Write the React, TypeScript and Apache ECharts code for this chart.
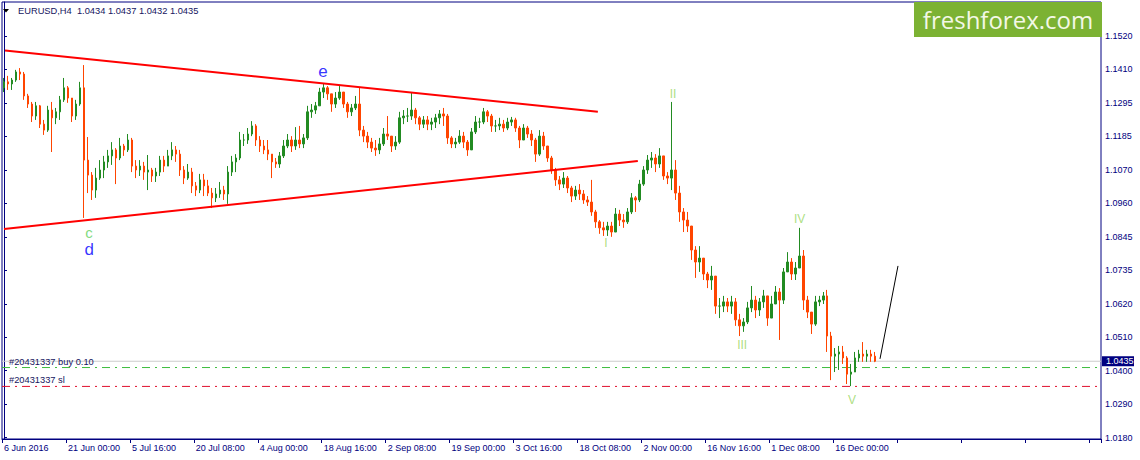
import React, { useEffect, useRef } from "react";
import * as echarts from "echarts";

// ---- data (EURUSD H4, each candle here spans 4 H4 bars) ----
const firstOpen = 1.1347;
const highs = [
  1.1380,1.1387,1.1380,1.1407,1.1413,1.1400,1.1327,1.1300,1.1300,1.1290,
  1.1240,1.1287,1.1300,1.1280,1.1320,1.1380,1.1353,1.1313,1.1307,1.1367,
  1.1423,1.1183,1.1066,1.1080,1.1106,1.1120,1.1140,1.1166,1.1146,1.1180,
  1.1160,1.1193,1.1180,1.1106,1.1106,1.1100,1.1123,1.1080,1.1080,1.1120,
  1.1120,1.1140,1.1166,1.1153,1.1140,1.1086,1.1093,1.1080,1.1033,1.1060,
  1.1060,1.1040,1.1013,1.1013,1.1033,1.1020,1.1086,1.1120,1.1126,1.1200,
  1.1193,1.1213,1.1236,1.1226,1.1186,1.1173,1.1173,1.1126,1.1113,1.1133,
  1.1173,1.1193,1.1186,1.1216,1.1220,1.1193,1.1287,1.1293,1.1300,1.1347,
  1.1363,1.1353,1.1327,1.1333,1.1353,1.1327,1.1300,1.1293,1.1320,1.1347,
  1.1220,1.1200,1.1180,1.1173,1.1180,1.1213,1.1253,1.1186,1.1186,1.1267,
  1.1273,1.1280,1.1330,1.1280,1.1253,1.1253,1.1253,1.1247,1.1260,1.1273,
  1.1280,1.1260,1.1186,1.1180,1.1206,1.1200,1.1173,1.1213,1.1253,1.1247,
  1.1280,1.1273,1.1260,1.1240,1.1247,1.1240,1.1247,1.1250,1.1247,1.1220,
  1.1226,1.1220,1.1206,1.1180,1.1206,1.1200,1.1153,1.1120,1.1080,1.1053,
  1.1066,1.1053,1.1020,1.1020,1.1026,1.1006,1.0986,1.1040,1.0940,1.0906,
  1.0900,1.0900,1.0900,1.0946,1.0940,1.0926,1.0946,1.0996,1.0986,1.1040,
  1.1086,1.1123,1.1133,1.1126,1.1146,1.1120,1.1066,1.1300,1.1106,1.1020,
  1.0946,1.0933,1.0886,1.0819,1.0819,1.0779,1.0733,1.0753,1.0719,1.0646,
  1.0653,1.0646,1.0653,1.0646,1.0593,1.0579,1.0633,1.0686,1.0653,1.0646,
  1.0673,1.0646,1.0653,1.0686,1.0679,1.0746,1.0799,1.0779,1.0766,1.0880,
  1.0806,1.0653,1.0599,1.0653,1.0653,1.0666,1.0673,1.0533,1.0479,1.0486,
  1.0486,1.0452,1.0426,1.0466,1.0473,1.0499,1.0473,1.0473,1.0466,
];
const lows = [
  1.1333,1.1340,1.1340,1.1367,1.1373,1.1307,1.1280,1.1233,1.1240,1.1213,
  1.1190,1.1200,1.1133,1.1226,1.1240,1.1300,1.1297,1.1233,1.1240,1.1287,
  1.0913,1.0996,1.0973,1.0980,1.1040,1.1046,1.1080,1.1090,1.1026,1.1106,
  1.1120,1.1133,1.1066,1.1046,1.1053,1.1040,1.1006,1.1033,1.1033,1.1053,
  1.1066,1.1086,1.1106,1.1100,1.1053,1.1026,1.1040,1.0996,1.0986,1.0996,
  1.0986,1.0986,1.0946,1.0966,1.0980,1.0973,1.0960,1.1053,1.1066,1.1106,
  1.1153,1.1160,1.1186,1.1153,1.1133,1.1126,1.1106,1.1046,1.1080,1.1080,
  1.1113,1.1146,1.1133,1.1140,1.1146,1.1146,1.1173,1.1247,1.1260,1.1287,
  1.1313,1.1307,1.1267,1.1280,1.1307,1.1280,1.1247,1.1253,1.1273,1.1186,
  1.1166,1.1146,1.1133,1.1120,1.1126,1.1153,1.1173,1.1133,1.1140,1.1160,
  1.1226,1.1233,1.1240,1.1226,1.1206,1.1213,1.1206,1.1206,1.1213,1.1226,
  1.1220,1.1160,1.1146,1.1146,1.1160,1.1146,1.1120,1.1140,1.1193,1.1213,
  1.1226,1.1233,1.1200,1.1200,1.1206,1.1200,1.1206,1.1220,1.1200,1.1146,
  1.1173,1.1180,1.1153,1.1100,1.1120,1.1140,1.1100,1.1060,1.1020,1.1006,
  1.1013,1.0996,1.0966,1.0973,1.0973,1.0960,1.0953,1.0920,1.0880,1.0860,
  1.0853,1.0853,1.0850,1.0866,1.0886,1.0880,1.0893,1.0926,1.0933,1.0966,
  1.1020,1.1060,1.1080,1.1066,1.1080,1.1040,1.1026,1.1006,1.0973,1.0900,
  1.0866,1.0866,1.0773,1.0713,1.0733,1.0706,1.0679,1.0673,1.0593,1.0579,
  1.0599,1.0599,1.0593,1.0553,1.0519,1.0533,1.0559,1.0599,1.0579,1.0586,
  1.0613,1.0553,1.0586,1.0633,1.0506,1.0626,1.0739,1.0706,1.0706,1.0746,
  1.0606,1.0579,1.0526,1.0553,1.0619,1.0626,1.0466,1.0372,1.0399,1.0406,
  1.0426,1.0359,1.0352,1.0399,1.0433,1.0433,1.0433,1.0433,1.0432,
];
const closes = [
  1.1367,1.1360,1.1373,1.1400,1.1393,1.1320,1.1293,1.1253,1.1287,1.1226,
  1.1206,1.1273,1.1247,1.1267,1.1307,1.1347,1.1313,1.1253,1.1293,1.1347,
  1.1106,1.1056,1.1006,1.1046,1.1073,1.1100,1.1120,1.1140,1.1113,1.1153,
  1.1140,1.1173,1.1086,1.1073,1.1086,1.1066,1.1073,1.1053,1.1066,1.1106,
  1.1086,1.1120,1.1140,1.1126,1.1073,1.1046,1.1066,1.1020,1.1006,1.1040,
  1.1020,1.0996,1.0980,1.0993,1.1006,1.0993,1.1066,1.1100,1.1113,1.1173,
  1.1173,1.1193,1.1220,1.1173,1.1153,1.1140,1.1126,1.1100,1.1093,1.1120,
  1.1153,1.1173,1.1153,1.1173,1.1160,1.1180,1.1267,1.1273,1.1287,1.1333,
  1.1347,1.1327,1.1293,1.1313,1.1333,1.1293,1.1267,1.1280,1.1293,1.1206,
  1.1186,1.1166,1.1146,1.1140,1.1160,1.1193,1.1186,1.1153,1.1166,1.1247,
  1.1253,1.1253,1.1273,1.1247,1.1226,1.1240,1.1226,1.1233,1.1247,1.1260,
  1.1253,1.1180,1.1160,1.1166,1.1186,1.1166,1.1140,1.1200,1.1233,1.1233,
  1.1267,1.1253,1.1220,1.1220,1.1226,1.1213,1.1233,1.1240,1.1213,1.1173,
  1.1213,1.1193,1.1173,1.1126,1.1186,1.1153,1.1113,1.1073,1.1040,1.1026,
  1.1046,1.1013,1.0986,1.1006,1.0993,1.0973,1.0966,1.0933,1.0900,1.0880,
  1.0873,1.0886,1.0866,1.0926,1.0906,1.0900,1.0933,1.0980,1.0973,1.1026,
  1.1073,1.1106,1.1113,1.1093,1.1120,1.1053,1.1046,1.1073,1.0996,1.0933,
  1.0906,1.0886,1.0806,1.0766,1.0779,1.0726,1.0706,1.0719,1.0619,1.0619,
  1.0633,1.0619,1.0633,1.0573,1.0553,1.0566,1.0613,1.0639,1.0606,1.0633,
  1.0653,1.0579,1.0626,1.0666,1.0639,1.0733,1.0766,1.0726,1.0746,1.0786,
  1.0639,1.0599,1.0559,1.0633,1.0639,1.0653,1.0519,1.0452,1.0459,1.0466,
  1.0446,1.0392,1.0399,1.0446,1.0459,1.0452,1.0459,1.0452,1.0435,
];

const SLOT_COUNT = 275;
const LABEL_EVERY = 16;
const dateLabels = [
  "6 Jun 2016", "21 Jun 00:00", "5 Jul 16:00", "20 Jul 08:00", "4 Aug 00:00",
  "18 Aug 16:00", "2 Sep 08:00", "19 Sep 00:00", "3 Oct 16:00", "18 Oct 08:00",
  "2 Nov 00:00", "16 Nov 16:00", "1 Dec 08:00", "16 Dec 00:00",
];
const priceTicks = [
  1.018, 1.02917, 1.04033, 1.0515, 1.06267, 1.07383, 1.085,
  1.09617, 1.10733, 1.1185, 1.12967, 1.14083, 1.152,
];
const priceTickLabels = [
  "1.0180", "1.0290", "1.0400", "1.0510", "1.0620", "1.0735", "1.0845",
  "1.0960", "1.1070", "1.1185", "1.1295", "1.1410", "1.1520",
];
const Y_MIN = 1.01756;
const Y_MAX = 1.16334;

const bidPrice = 1.0435;
const buyLevel = 1.0414;
const slLevel = 1.0351;
const buyText = "#20431337 buy 0.10";
const slText = "#20431337 sl";
const titleText = "EURUSD,H4  1.0434 1.0437 1.0432 1.0435";

// trend lines in [slot index, price]
const upperTrend = [[0.25, 1.1472], [148.6, 1.1267]];
const lowerTrend = [[0, 1.0876], [158.6, 1.1103]];
const projection = [[219.2, 1.0443], [223.7, 1.0753]];

const waveLabels = [
  { text: "e", at: [79.8, 1.1400], color: "#0000ff", size: 17 },
  { text: "c", at: [21.3, 1.0863], color: "#5fd25f", size: 15 },
  { text: "d", at: [21.3, 1.0808], color: "#0000ff", size: 17 },
  { text: "II", at: [167.4, 1.1327], color: "#96d65e", size: 12 },
  { text: "I", at: [150.6, 1.0829], color: "#96d65e", size: 12 },
  { text: "III", at: [184.7, 1.0489], color: "#96d65e", size: 12 },
  { text: "IV", at: [199.1, 1.0910], color: "#96d65e", size: 12 },
  { text: "V", at: [212.2, 1.0305], color: "#96d65e", size: 12 },
];

const NAVY = "#000080";
const FONT = "Liberation Sans";

export default function App() {
  const ref = useRef<HTMLDivElement>(null);

  useEffect(() => {
    if (!ref.current) return;
    const chart = echarts.init(ref.current, null, { renderer: "svg" });

    const candles = closes.map((c, i) => {
      const o = i === 0 ? firstOpen : closes[i - 1];
      const h = Math.max(highs[i], o, c);
      const l = Math.min(lows[i], o, c);
      return [o, c, l, h];
    });
    const slots = Array.from({ length: SLOT_COUNT }, (_, i) => String(i));
    const xStart = -0.5;
    const xEnd = SLOT_COUNT - 0.5;
    const level = (v: number) => [[xStart, v], [xEnd, v]];

    const dashDot = [8, 5, 2, 5];

    chart.setOption({
      animation: false,
      backgroundColor: "#ffffff",
      grid: {
        left: 2, right: 39, top: 2, bottom: 21,
        show: true, borderColor: NAVY, borderWidth: 1, backgroundColor: "#ffffff",
      },
      xAxis: [
        {
          type: "category",
          data: slots,
          boundaryGap: true,
          axisLine: { show: true, lineStyle: { color: NAVY, width: 1 } },
          axisTick: {
            show: true, length: 4, lineStyle: { color: NAVY },
            interval: (i: number) => i % LABEL_EVERY === 0,
          },
          axisLabel: {
            interval: (i: number) => i % LABEL_EVERY === 0,
            formatter: (_v: string, i: number) =>
              i % LABEL_EVERY === 0 ? dateLabels[i / LABEL_EVERY] ?? "" : "",
            align: "left",
            color: NAVY, fontSize: 9, fontFamily: FONT, margin: 4,
          },
          splitLine: { show: false },
        },
        {
          type: "value", min: xStart, max: xEnd, show: false,
        },
      ],
      yAxis: {
        type: "value",
        position: "right",
        min: Y_MIN,
        max: Y_MAX,
        axisLine: { show: true, lineStyle: { color: NAVY, width: 1 } },
        axisTick: {
          show: true, length: 3, lineStyle: { color: NAVY },
          customValues: priceTicks,
        },
        axisLabel: {
          customValues: priceTicks,
          formatter: (v: number) => {
            let best = 0;
            priceTicks.forEach((t, k) => {
              if (Math.abs(t - v) < Math.abs(priceTicks[best] - v)) best = k;
            });
            return priceTickLabels[best];
          },
          color: NAVY, fontSize: 9, fontFamily: FONT, margin: 4,
        },
        splitLine: { show: false },
      },
      series: [
        {
          type: "line", xAxisIndex: 1, yAxisIndex: 0, data: level(bidPrice), z: 1,
          symbol: "none", silent: true, lineStyle: { color: "#cccccc", width: 1 },
        },
        {
          type: "line", xAxisIndex: 1, yAxisIndex: 0, data: level(buyLevel), z: 1,
          symbol: "none", silent: true,
          itemStyle: { color: "#3cbc3c" },
          lineStyle: { color: "#3cbc3c", width: 1, type: dashDot, opacity: 1 },
        },
        {
          type: "line", xAxisIndex: 1, yAxisIndex: 0, data: level(slLevel), z: 1,
          symbol: "none", silent: true,
          itemStyle: { color: "#e0102e" },
          lineStyle: { color: "#e0102e", width: 1, type: dashDot, opacity: 1 },
        },
        {
          type: "candlestick",
          xAxisIndex: 0,
          yAxisIndex: 0,
          data: candles,
          barWidth: 2,
          z: 3,
          itemStyle: {
            color: "#228B22", color0: "#FF4500",
            borderColor: "#228B22", borderColor0: "#FF4500", borderWidth: 1,
          },
        },
        {
          type: "line", xAxisIndex: 1, yAxisIndex: 0, data: upperTrend, z: 4,
          symbol: "none", silent: true, lineStyle: { color: "#ff0000", width: 2 },
        },
        {
          type: "line", xAxisIndex: 1, yAxisIndex: 0, data: lowerTrend, z: 4,
          symbol: "none", silent: true, lineStyle: { color: "#ff0000", width: 2 },
        },
        {
          type: "line", xAxisIndex: 1, yAxisIndex: 0, data: projection, z: 4,
          symbol: "none", silent: true, lineStyle: { color: "#000000", width: 1 },
        },
        {
          type: "scatter", xAxisIndex: 1, yAxisIndex: 0, symbolSize: 0, silent: true, z: 5,
          data: waveLabels.map((w) => ({
            value: w.at,
            label: {
              show: true, position: "inside", formatter: w.text,
              color: w.color, fontSize: w.size, fontFamily: FONT,
            },
          })),
        },
      ],
    });

    const py = (v: number) => chart.convertToPixel({ yAxisIndex: 0 }, v) as number;
    const bidY = py(bidPrice);
    const buyY = py(buyLevel);
    const slY = py(slLevel);
    const gridRight = 1140 - 39;

    chart.setOption({
      graphic: [
        {
          type: "polygon", z: 100,
          shape: { points: [[3, 9], [9, 9], [6, 12.5]] },
          style: { fill: "#000000" },
        },
        {
          type: "text", z: 100, x: 18, y: 11,
          style: {
            text: titleText, fill: "#14145e", fontSize: 9.3, fontFamily: FONT,
            verticalAlign: "middle",
          },
        },
        {
          type: "text", z: 100, x: 9, y: buyY - 6,
          style: {
            text: buyText, fill: "#14145e", fontSize: 9.3, fontFamily: FONT,
            verticalAlign: "middle",
          },
        },
        {
          type: "text", z: 100, x: 9, y: slY - 6,
          style: {
            text: slText, fill: "#14145e", fontSize: 9.3, fontFamily: FONT,
            verticalAlign: "middle",
          },
        },
        {
          type: "rect", z: 100,
          shape: { x: 914, y: 2, width: gridRight - 914 + 1, height: 35 },
          style: { fill: "#7cb233" },
        },
        {
          type: "text", z: 101, x: 1008, y: 19,
          style: {
            text: "freshforex.com", fill: "#f3f8e6", fontSize: 24, fontFamily: "Open Sans",
            align: "center", verticalAlign: "middle",
          },
        },
        {
          type: "rect", z: 100,
          shape: { x: gridRight + 1, y: bidY - 5, width: 32, height: 10 },
          style: { fill: NAVY },
        },
        {
          type: "text", z: 101, x: gridRight + 5, y: bidY,
          style: {
            text: bidPrice.toFixed(4), fill: "#ffffff", fontSize: 9, fontFamily: FONT,
            verticalAlign: "middle",
          },
        },
      ],
    });

    return () => chart.dispose();
  }, []);

  return (
    <div
      ref={ref}
      style={{ position: "fixed", left: 0, top: 0, width: 1140, height: 460, background: "#fff" }}
    />
  );
}
